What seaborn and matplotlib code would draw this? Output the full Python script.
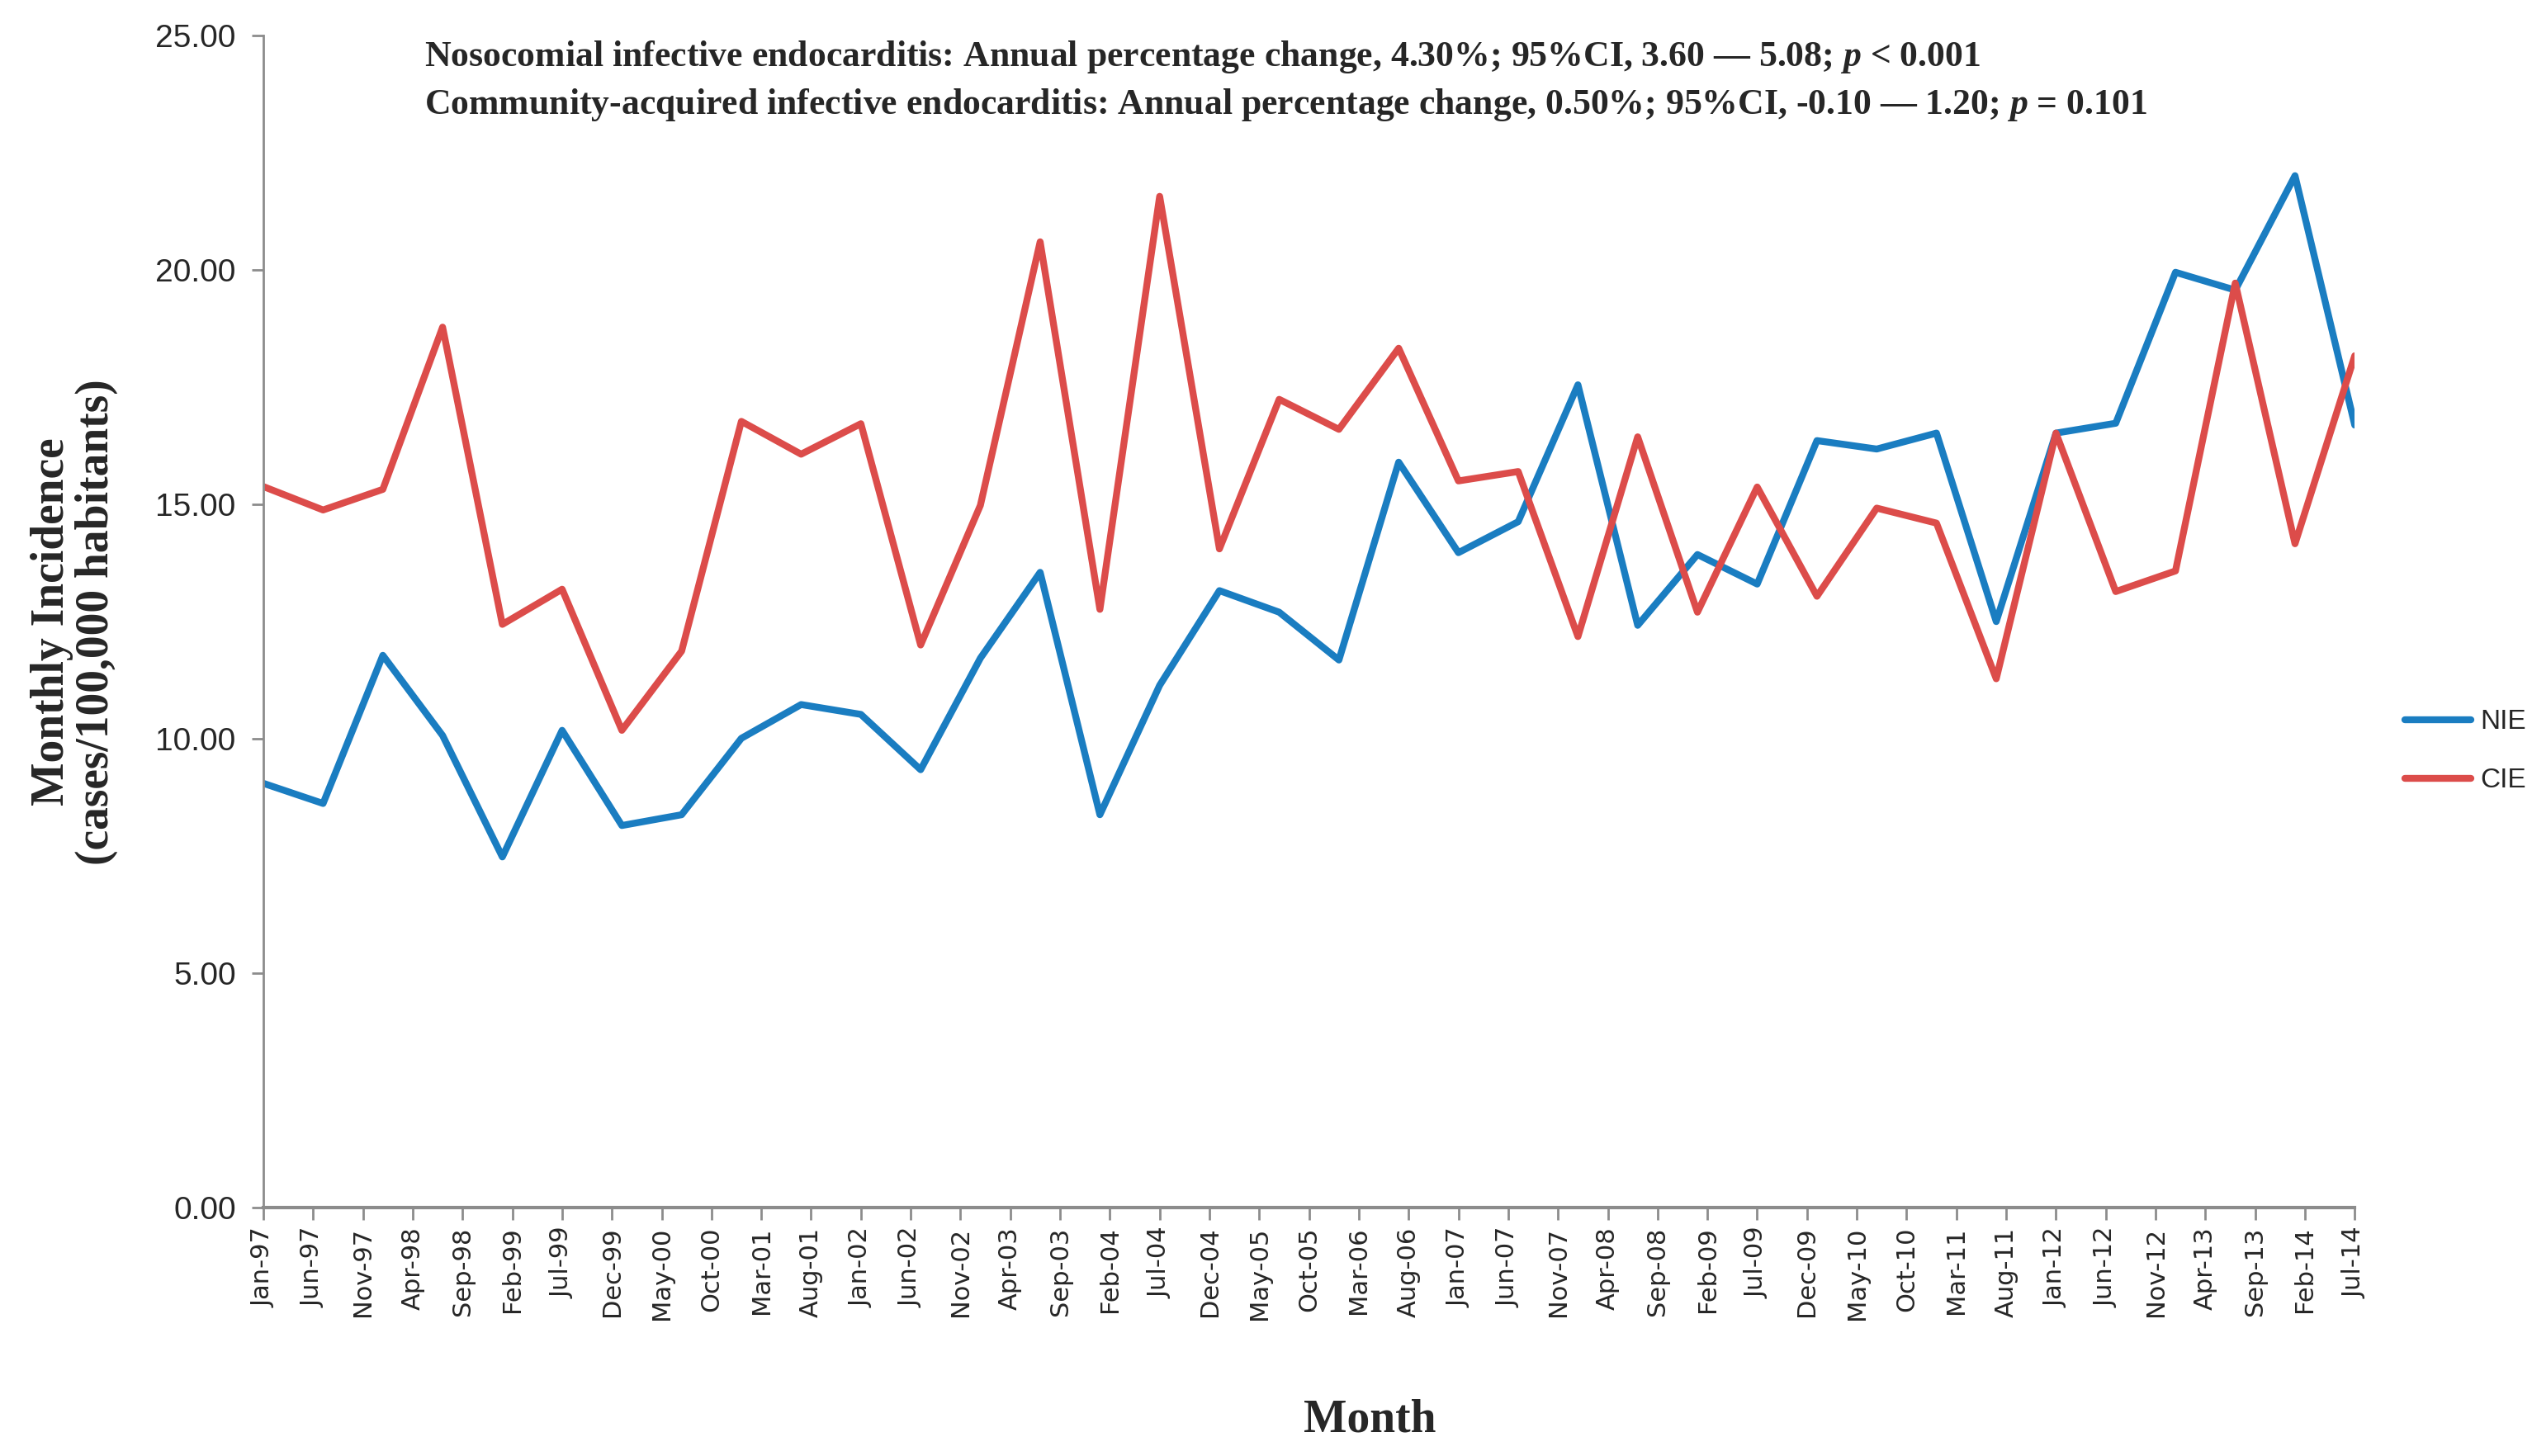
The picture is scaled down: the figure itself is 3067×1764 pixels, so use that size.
import numpy as np
import pandas as pd
import matplotlib
matplotlib.use("Agg")
import matplotlib.pyplot as plt
import seaborn as sns

# ---------------- data ----------------
# semi-annual observations, x = months since Jan-97
obs_month = [0, 6, 12, 18, 24, 30, 36, 42, 48, 54, 60, 66, 72, 78, 84, 90, 96, 102,
             108, 114, 120, 126, 132, 138, 144, 150, 156, 162, 168, 174, 180, 186,
             192, 198, 204, 210]
nie = [9.05, 8.62, 11.78, 10.07, 7.48, 10.18, 8.15, 8.38, 10.01, 10.73, 10.52, 9.34,
       11.72, 13.55, 8.38, 11.14, 13.16, 12.70, 11.68, 15.90, 13.97, 14.63, 17.55,
       12.42, 13.93, 13.30, 16.36, 16.18, 16.52, 12.50, 16.52, 16.73, 19.95, 19.57,
       22.01, 16.69]
cie = [15.38, 14.88, 15.32, 18.78, 12.44, 13.19, 10.18, 11.87, 16.77, 16.07, 16.72,
       12.00, 14.98, 20.60, 12.76, 21.57, 14.05, 17.24, 16.60, 18.33, 15.50, 15.70,
       12.18, 16.44, 12.70, 15.37, 13.04, 14.92, 14.60, 11.28, 16.52, 13.14, 13.58,
       19.72, 14.16, 18.17]

tick_month = list(range(0, 211, 5))
tick_labels = ["Jan-97", "Jun-97", "Nov-97", "Apr-98", "Sep-98", "Feb-99", "Jul-99",
               "Dec-99", "May-00", "Oct-00", "Mar-01", "Aug-01", "Jan-02", "Jun-02",
               "Nov-02", "Apr-03", "Sep-03", "Feb-04", "Jul-04", "Dec-04", "May-05",
               "Oct-05", "Mar-06", "Aug-06", "Jan-07", "Jun-07", "Nov-07", "Apr-08",
               "Sep-08", "Feb-09", "Jul-09", "Dec-09", "May-10", "Oct-10", "Mar-11",
               "Aug-11", "Jan-12", "Jun-12", "Nov-12", "Apr-13", "Sep-13", "Feb-14",
               "Jul-14"]
y_ticks = [0, 5, 10, 15, 20, 25]

series_names = ["NIE", "CIE"]
colors = {"NIE": "#1a7dc1", "CIE": "#dc4c4a"}

title1 = "Nosocomial infective endocarditis: Annual percentage change, 4.30%; 95%CI, 3.60 \u2014 5.08; $p$ < 0.001"
title2 = "Community-acquired infective endocarditis: Annual percentage change, 0.50%; 95%CI, -0.10 \u2014 1.20; $p$ = 0.101"

df = pd.DataFrame({
    "month": obs_month * 2,
    "value": nie + cie,
    "series": ["NIE"] * len(nie) + ["CIE"] * len(cie),
})

# ---------------- style ----------------
sns.set_style("white")
plt.rcParams["font.family"] = ["Liberation Sans Narrow", "Liberation Sans", "DejaVu Sans"]
plt.rcParams["mathtext.fontset"] = "custom"
plt.rcParams["mathtext.it"] = "Liberation Serif:italic:bold"
plt.rcParams["mathtext.rm"] = "Liberation Serif:bold"
plt.rcParams["mathtext.bf"] = "Liberation Serif:bold"

LW = 6.0

fig = plt.figure(figsize=(30.67, 17.64), dpi=100)
ax = fig.add_axes([0.104, 0.1706, 0.826, 0.805])

sns.lineplot(data=df, x="month", y="value", hue="series", hue_order=series_names,
             palette=colors, linewidth=LW, ax=ax, legend=True,
             solid_joinstyle="round", solid_capstyle="round")

handles, labels = ax.get_legend_handles_labels()
ax.get_legend().remove()
for h in handles:
    h.set_linewidth(LW)
    h.set_solid_capstyle("round")
fig.legend(handles, labels, loc="center left", bbox_to_anchor=(0.940, 0.484),
           frameon=False, handlelength=2.4, handletextpad=0.35, labelspacing=1.2,
           prop={"family": ["Liberation Sans Narrow", "Liberation Sans"], "size": 24})

ax.set_xlim(0, 210)
ax.set_ylim(0, 25)
ax.set_xticks(tick_month)
ax.set_xticklabels(tick_labels, rotation=90, fontsize=22, family="DejaVu Sans")
ax.set_yticks(y_ticks)
ax.set_yticklabels([f"{v:.2f}" for v in y_ticks], fontsize=28)

for s in ["top", "right"]:
    ax.spines[s].set_visible(False)
ax.spines["left"].set_color("#8c8c8c")
ax.spines["left"].set_linewidth(2.0)
ax.spines["bottom"].set_color("#8c8c8c")
ax.spines["bottom"].set_linewidth(3.0)
ax.tick_params(axis="x", direction="out", length=11, width=2, color="#8c8c8c",
               pad=6, bottom=True)
ax.tick_params(axis="y", direction="out", length=10, width=2, color="#8c8c8c",
               pad=14, left=True)
ax.set_xlabel("")
ax.set_ylabel("")
ax.grid(False)

fig.text(0.0293, 0.573, "Monthly Incidence\n(cases/100,000 habitants)", rotation=90,
         ha="center", va="center", fontsize=40, fontweight="bold",
         family="Liberation Serif", linespacing=1.05)
fig.text(0.541, 0.0244, "Month", ha="center", va="center", fontsize=40,
         fontweight="bold", family="Liberation Serif")

fig.text(0.1677, 0.961, title1, ha="left", va="center", fontsize=31.5,
         fontweight="bold", family="Liberation Serif")
fig.text(0.1677, 0.928, title2, ha="left", va="center", fontsize=31.5,
         fontweight="bold", family="Liberation Serif")

fig.savefig("out.png", dpi=100, facecolor="white")
